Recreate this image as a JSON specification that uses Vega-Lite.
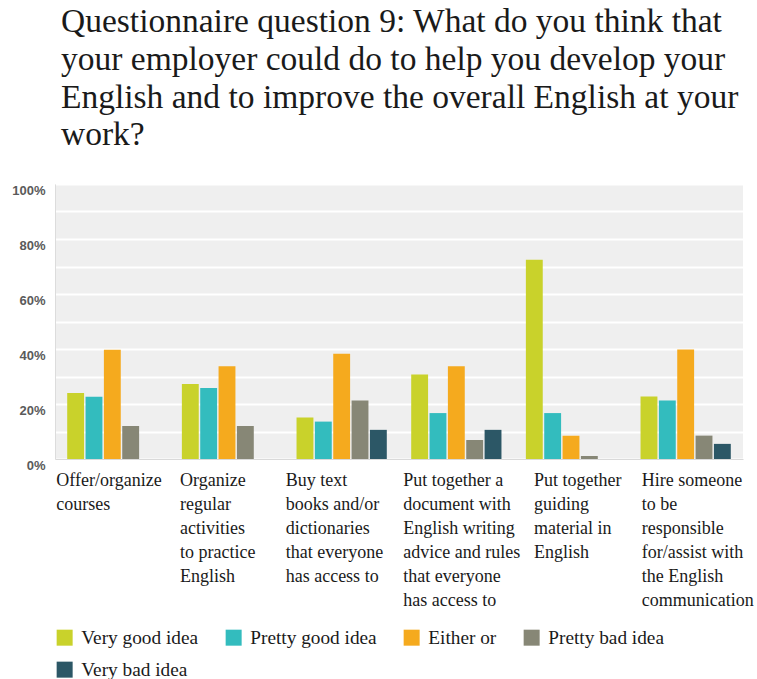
{
  "$schema": "https://vega.github.io/schema/vega-lite/v6.json",
  "width": 688,
  "height": 275,
  "autosize": {"type": "none"},
  "padding": {"left": 55, "top": 184, "right": 14, "bottom": 220},
  "background": "white",
  "title": {
    "text": ["Questionnaire question 9: What do you think that", "your employer could do to help you develop your", "English and to improve the overall English at your", "work?"],
    "font": "Liberation Serif",
    "fontSize": 33.5,
    "fontWeight": "normal",
    "color": "#1a1a1a",
    "anchor": "start",
    "frame": "group",
    "lineHeight": 37.7,
    "dx": 6,
    "offset": 31
  },
  "data": {
    "values": [
      {"question": "Offer/organize courses", "response": "Very good idea", "value": 0.24},
      {"question": "Offer/organize courses", "response": "Pretty good idea", "value": 0.226},
      {"question": "Offer/organize courses", "response": "Either or", "value": 0.397},
      {"question": "Offer/organize courses", "response": "Pretty bad idea", "value": 0.12},
      {"question": "Offer/organize courses", "response": "Very bad idea", "value": 0},
      {"question": "Organize regular activities to practice English", "response": "Very good idea", "value": 0.273},
      {"question": "Organize regular activities to practice English", "response": "Pretty good idea", "value": 0.258},
      {"question": "Organize regular activities to practice English", "response": "Either or", "value": 0.337},
      {"question": "Organize regular activities to practice English", "response": "Pretty bad idea", "value": 0.12},
      {"question": "Organize regular activities to practice English", "response": "Very bad idea", "value": 0},
      {"question": "Buy text books and/or dictionaries that everyone has access to", "response": "Very good idea", "value": 0.151},
      {"question": "Buy text books and/or dictionaries that everyone has access to", "response": "Pretty good idea", "value": 0.136},
      {"question": "Buy text books and/or dictionaries that everyone has access to", "response": "Either or", "value": 0.383},
      {"question": "Buy text books and/or dictionaries that everyone has access to", "response": "Pretty bad idea", "value": 0.213},
      {"question": "Buy text books and/or dictionaries that everyone has access to", "response": "Very bad idea", "value": 0.106},
      {"question": "Put together a document with English writing advice and rules that everyone has access to", "response": "Very good idea", "value": 0.307},
      {"question": "Put together a document with English writing advice and rules that everyone has access to", "response": "Pretty good idea", "value": 0.167},
      {"question": "Put together a document with English writing advice and rules that everyone has access to", "response": "Either or", "value": 0.337},
      {"question": "Put together a document with English writing advice and rules that everyone has access to", "response": "Pretty bad idea", "value": 0.069},
      {"question": "Put together a document with English writing advice and rules that everyone has access to", "response": "Very bad idea", "value": 0.106},
      {"question": "Put together guiding material in English", "response": "Very good idea", "value": 0.725},
      {"question": "Put together guiding material in English", "response": "Pretty good idea", "value": 0.167},
      {"question": "Put together guiding material in English", "response": "Either or", "value": 0.085},
      {"question": "Put together guiding material in English", "response": "Pretty bad idea", "value": 0.011},
      {"question": "Put together guiding material in English", "response": "Very bad idea", "value": 0},
      {"question": "Hire someone to be responsible for/assist with the English communication", "response": "Very good idea", "value": 0.227},
      {"question": "Hire someone to be responsible for/assist with the English communication", "response": "Pretty good idea", "value": 0.213},
      {"question": "Hire someone to be responsible for/assist with the English communication", "response": "Either or", "value": 0.398},
      {"question": "Hire someone to be responsible for/assist with the English communication", "response": "Pretty bad idea", "value": 0.085},
      {"question": "Hire someone to be responsible for/assist with the English communication", "response": "Very bad idea", "value": 0.055}
    ]
  },
  "mark": {"type": "bar"},
  "encoding": {
    "x": {
      "field": "question",
      "type": "nominal",
      "sort": null,
      "scale": {"paddingInner": 0.2, "paddingOuter": 0.1},
      "axis": {
        "title": null,
        "labelAngle": 0,
        "labelAlign": "left",
        "labelBaseline": "top",
        "labelFont": "Liberation Serif",
        "labelFontSize": 18,
        "labelLineHeight": 24,
        "labelColor": "#1a1a1a",
        "labelPadding": 12,
        "labelLimit": 0,
        "labelOverlap": false,
        "ticks": false,
        "domainColor": "#d9d9d9",
        "labelOffset": {
          "condition": [
            {"test": "datum.value === 'Organize regular activities to practice English'", "value": -47},
            {"test": "datum.value === 'Put together guiding material in English'", "value": -37},
            {"test": "datum.value === 'Hire someone to be responsible for/assist with the English communication'", "value": -44},
            {"test": "datum.value === 'Put together a document with English writing advice and rules that everyone has access to'", "value": -53}
          ],
          "value": -56
        },
        "labelExpr": "datum.value === 'Offer/organize courses' ? ['Offer/organize', 'courses'] : datum.value === 'Organize regular activities to practice English' ? ['Organize', 'regular', 'activities', 'to practice', 'English'] : datum.value === 'Buy text books and/or dictionaries that everyone has access to' ? ['Buy text', 'books and/or', 'dictionaries', 'that everyone', 'has access to'] : datum.value === 'Put together a document with English writing advice and rules that everyone has access to' ? ['Put together a', 'document with', 'English writing', 'advice and rules', 'that everyone', 'has access to'] : datum.value === 'Put together guiding material in English' ? ['Put together', 'guiding', 'material in', 'English'] : ['Hire someone', 'to be', 'responsible', 'for/assist with', 'the English', 'communication']"
      }
    },
    "xOffset": {
      "field": "response",
      "type": "nominal",
      "sort": ["Very good idea", "Pretty good idea", "Either or", "Pretty bad idea", "Very bad idea"],
      "scale": {"paddingInner": 0.08, "paddingOuter": 0.04}
    },
    "y": {
      "field": "value",
      "type": "quantitative",
      "scale": {"domain": [0, 1], "nice": false},
      "axis": {
        "title": null,
        "values": [0, 0.1, 0.2, 0.3, 0.4, 0.5, 0.6, 0.7, 0.8, 0.9, 1],
        "format": ".0%",
        "labelExpr": "round(datum.value * 100) % 20 === 0 ? datum.label : ''",
        "grid": true,
        "gridColor": "#ffffff",
        "gridWidth": 2,
        "ticks": false,
        "domain": true,
        "domainColor": "#dcdcdc",
        "labelFont": "Liberation Sans",
        "labelFontWeight": "bold",
        "labelFontSize": 13,
        "labelColor": "#5a5a5a",
        "labelPadding": 10,
        "labelBaseline": "top",
        "labelOverlap": false
      }
    },
    "color": {
      "field": "response",
      "type": "nominal",
      "scale": {
        "domain": ["Very good idea", "Pretty good idea", "Either or", "Pretty bad idea", "Very bad idea"],
        "range": ["#c9d22b", "#33bcbe", "#f5aa1e", "#878776", "#2c5766"]
      },
      "legend": {
        "title": null,
        "orient": "none",
        "legendX": 0,
        "legendY": 444,
        "direction": "horizontal",
        "columns": 4,
        "symbolType": "square",
        "symbolSize": 256,
        "symbolStrokeWidth": 0,
        "symbolOpacity": 1,
        "labelFont": "Liberation Serif",
        "labelFontSize": 19.3,
        "labelColor": "#1a1a1a",
        "labelOffset": 7,
        "labelLimit": 0,
        "columnPadding": 25,
        "rowPadding": 12
      }
    }
  },
  "config": {
    "view": {"fill": "#efefef", "stroke": null},
    "axis": {"gridOpacity": 1}
  }
}
